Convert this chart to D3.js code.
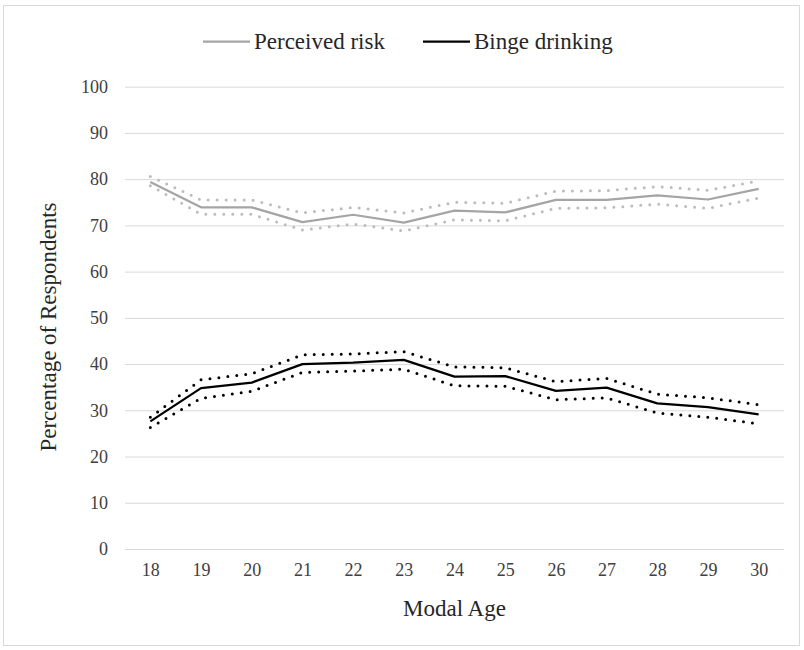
<!DOCTYPE html>
<html>
<head>
<meta charset="utf-8">
<script src="https://cdn.jsdelivr.net/npm/d3@7"></script>
<style>
  html, body { margin: 0; padding: 0; background: #fff; }
  svg { display: block; }
</style>
</head>
<body>
<svg id="chart" width="804" height="650"></svg>
<script>
// Modal age of respondents (x categories)
const ages = [18, 19, 20, 21, 22, 23, 24, 25, 26, 27, 28, 29, 30];

// Perceived risk: estimate with upper/lower confidence bounds (%)
const riskEst   = [79.4, 73.9, 73.9, 70.7, 72.3, 70.6, 73.2, 72.8, 75.5, 75.5, 76.5, 75.6, 77.9];
const riskUpper = [80.6, 75.5, 75.5, 72.7, 73.9, 72.7, 75.0, 74.8, 77.4, 77.5, 78.4, 77.6, 79.6];
const riskLower = [78.6, 72.4, 72.4, 69.0, 70.3, 68.8, 71.2, 71.0, 73.7, 73.8, 74.6, 73.7, 75.9];

// Binge drinking: estimate with upper/lower confidence bounds (%)
const bingeEst   = [27.6, 34.8, 36.0, 40.0, 40.3, 40.9, 37.3, 37.4, 34.2, 34.9, 31.5, 30.7, 29.1];
const bingeUpper = [28.5, 36.6, 37.9, 42.0, 42.2, 42.7, 39.4, 39.2, 36.2, 36.9, 33.5, 32.7, 31.2];
const bingeLower = [26.3, 32.6, 34.1, 38.2, 38.5, 38.9, 35.3, 35.2, 32.3, 32.7, 29.4, 28.5, 27.1];

const yTicks = [0, 10, 20, 30, 40, 50, 60, 70, 80, 90, 100];

const FONT = '"Liberation Serif", "Times New Roman", serif';

const svg = d3.select("#chart");
const W = 804, H = 650;
const plot = { left: 125, right: 784, top: 86.7, bottom: 549 };

// outer chart frame
svg.append("rect")
  .attr("x", 3.5).attr("y", 5.5)
  .attr("width", W - 8).attr("height", H - 10)
  .attr("fill", "#fff").attr("stroke", "#d9d9d9").attr("stroke-width", 1);

const x = d3.scalePoint().domain(ages).range([plot.left, plot.right]).padding(0.5);
const y = d3.scaleLinear().domain([0, 100]).range([plot.bottom, plot.top]);

// horizontal gridlines + y tick labels
const yAxis = svg.append("g")
  .attr("transform", `translate(${plot.left},0)`)
  .call(d3.axisLeft(y).tickValues(yTicks).tickSize(-(plot.right - plot.left)).tickPadding(17));
yAxis.select(".domain").remove();
yAxis.selectAll(".tick line").attr("stroke", "#d9d9d9").attr("stroke-width", 1);
yAxis.selectAll(".tick text")
  .attr("fill", "#404040")
  .style("font-family", FONT).style("font-size", "18px");

// x tick labels
const xAxis = svg.append("g")
  .attr("transform", `translate(0,${plot.bottom})`)
  .call(d3.axisBottom(x).tickSize(0).tickPadding(14));
xAxis.select(".domain").remove();
xAxis.selectAll(".tick text")
  .attr("fill", "#404040")
  .style("font-family", FONT).style("font-size", "18px");

// axis titles
svg.append("text")
  .attr("x", (plot.left + plot.right) / 2).attr("y", 616)
  .attr("text-anchor", "middle").attr("fill", "#262626")
  .style("font-family", FONT).style("font-size", "23px")
  .text("Modal Age");

svg.append("text")
  .attr("transform", "translate(56,327) rotate(-90)")
  .attr("text-anchor", "middle").attr("fill", "#262626")
  .style("font-family", FONT).style("font-size", "23px")
  .text("Percentage of Respondents");

const line = d3.line().x((d, i) => x(ages[i])).y(d => y(d));

function drawSeries(est, upper, lower, lineColor, dotColor) {
  // confidence bounds as round-dot lines
  [upper, lower].forEach(b => {
    svg.append("path")
      .datum(b)
      .attr("d", line)
      .attr("fill", "none")
      .attr("stroke", dotColor)
      .attr("stroke-width", 3)
      .attr("stroke-linecap", "round")
      .attr("stroke-dasharray", "0 9");
  });
  // point estimate
  svg.append("path")
    .datum(est)
    .attr("d", line)
    .attr("fill", "none")
    .attr("stroke", lineColor)
    .attr("stroke-width", 2.25)
    .attr("stroke-linejoin", "round");
}

drawSeries(riskEst, riskUpper, riskLower, "#a5a5a5", "#bcbcbc");
drawSeries(bingeEst, bingeUpper, bingeLower, "#000000", "#000000");

// legend
const legend = [
  { label: "Perceived risk", color: "#a5a5a5", x: 203 },
  { label: "Binge drinking", color: "#000000", x: 423 }
];
const lg = svg.append("g");
legend.forEach(l => {
  lg.append("line")
    .attr("x1", l.x).attr("x2", l.x + 47)
    .attr("y1", 41.7).attr("y2", 41.7)
    .attr("stroke", l.color).attr("stroke-width", 2.25);
  lg.append("text")
    .attr("x", l.x + 51).attr("y", 49)
    .attr("fill", "#262626")
    .style("font-family", FONT).style("font-size", "23px")
    .text(l.label);
});
</script>
</body>
</html>
